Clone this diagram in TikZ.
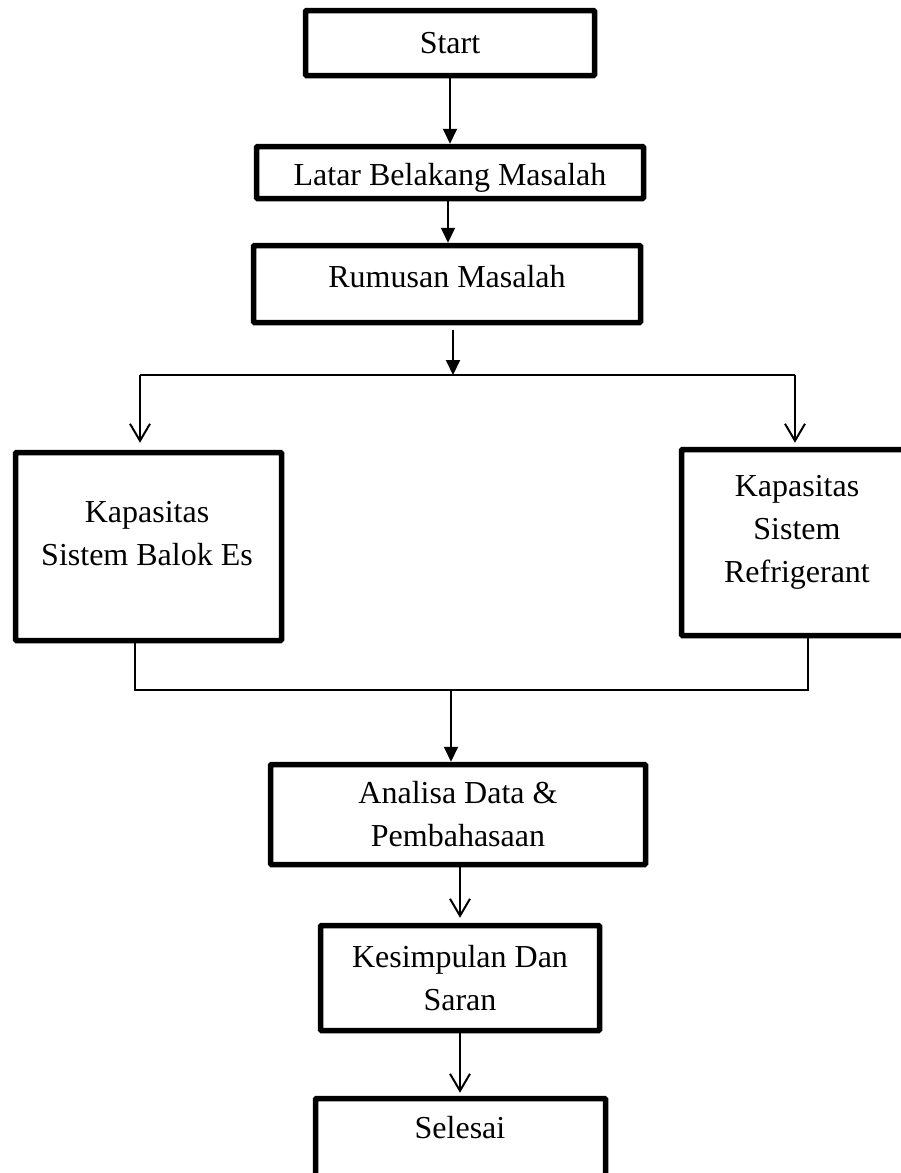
\documentclass[tikz,border=0pt]{standalone}
\usepackage{fontspec}
\setmainfont{Liberation Serif}
\usetikzlibrary{arrows.meta}
\tikzset{
  basic/.style   = {draw, line width=5.5pt, rounded corners=1pt, rectangle,
                    font=\fontsize{32}{43}\selectfont},
  stepbox/.style = {basic, align=center},
  txt/.style     = {align=center, font=\fontsize{32}{43}\selectfont},
  link/.style    = {line width=2pt},
  joinline/.style = {line width=1.6pt},
  fill tip/.style = {-{Triangle[width=14pt,length=15pt]}},
  open tip/.style = {-{Straight Barb[width=20pt,length=17pt]}}
}
\begin{document}
\begin{tikzpicture}[x=1pt,y=-1pt]
\useasboundingbox (0,0) rectangle (901,1173);

% main column, top part
\node[stepbox, minimum width=289pt, minimum height=65pt] (start) at (450,43) {Start};
\node[stepbox, minimum width=387pt, minimum height=52pt] (latar) at (450,172.5) {};
\node[txt] (latart) at (450,178) {Latar Belakang Masalah};
\node[stepbox, minimum width=387pt, minimum height=77pt] (rum) at (447,284) {};
\node[txt] (rumt) at (447,277) {Rumusan Masalah};

% the two branches
\node[stepbox, minimum width=266pt, minimum height=188pt] (bal) at (148.5,546.5) {};
\node[txt] (balt) at (147,533.5) {Kapasitas\\Sistem Balok Es};
\node[stepbox, minimum width=232pt, minimum height=186pt] (ref) at (797.5,542.5) {};
\node[txt] (reft) at (797,532) {Kapasitas\\Sistem\\Refrigerant};

% main column, bottom part
\node[stepbox, minimum width=375pt, minimum height=100pt] (ana) at (458,814.5) {Analisa Data \&\\Pembahasaan};
\node[stepbox, minimum width=279pt, minimum height=105pt] (kes) at (460,978) {Kesimpulan Dan\\Saran};
\node[stepbox, minimum width=290pt, minimum height=92pt] (sel) at (460.5,1144.5) {};
\node[txt] (selt) at (460,1128) {Selesai};

% split and join points
\coordinate (split) at (453,375);
\coordinate (splitL) at (140,375);
\coordinate (splitR) at (795,375);
\coordinate (joinL) at (135,690);
\coordinate (joinR) at (808,690);
\coordinate (merge) at (451,690);

% connectors
\draw[link, fill tip] (start) -- (latar);
\draw[link, fill tip] (latar.south -| 448,0) -- (rum.north -| 448,0);
\draw[link, fill tip, shorten <=5pt] (rum.south -| split) -- (split);
\draw[joinline] (splitL) -- (splitR);
\draw[link, open tip, shorten >=7pt] (splitL) -- (splitL |- bal.north);
\draw[link, open tip, shorten >=4pt] (splitR) -- (splitR |- ref.north);

\draw[joinline] ([yshift=5pt]bal.south -| joinL) -- (joinL) -- (joinR) -- (ref.south -| joinR);
\draw[link, fill tip] (merge) -- (merge |- ana.north);

\draw[link, open tip, shorten >=5pt] (ana.south -| kes) -- (kes);
\draw[link, open tip, shorten >=3pt] (kes) -- (kes |- sel.north);

\end{tikzpicture}
\end{document}
